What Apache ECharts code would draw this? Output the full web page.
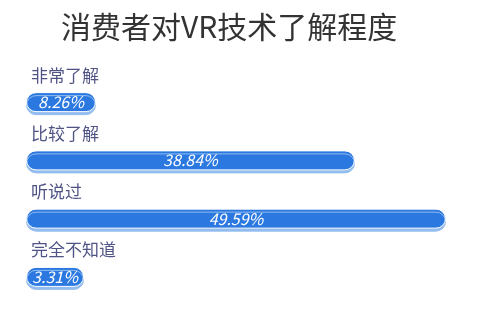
<!DOCTYPE html>
<html>
<head>
<meta charset="utf-8">
<script src="https://cdn.jsdelivr.net/npm/echarts@6/dist/echarts.min.js"></script>
<style>
  html, body { margin: 0; padding: 0; background: #fff; }
  #chart { width: 500px; height: 320px; }
</style>
</head>
<body>
<div id="chart"></div>
<script>
  var categories = ['非常了解', '比较了解', '听说过', '完全不知道'];
  var values = [8.26, 38.84, 49.59, 3.31];

  var font = '"Noto Sans CJK SC", "Noto Sans", sans-serif';
  var myChart = echarts.init(document.getElementById('chart'));

  myChart.setOption({
    backgroundColor: '#fff',
    title: {
      text: '消费者对VR技术了解程度',
      left: 56,
      top: 7,
      textStyle: {
        fontFamily: font,
        fontSize: 30,
        fontWeight: 'normal',
        color: '#333'
      }
    },
    grid: {
      left: 26,
      right: 54,
      top: 73,
      bottom: 14
    },
    xAxis: {
      type: 'value',
      min: 0,
      max: 'dataMax',
      show: false
    },
    yAxis: {
      type: 'category',
      inverse: true,
      data: categories,
      axisLine: { show: false },
      axisTick: { show: false },
      splitLine: { show: false },
      axisLabel: {
        inside: true,
        margin: 5,
        align: 'left',
        verticalAlign: 'bottom',
        lineHeight: 54,
        fontFamily: font,
        fontSize: 17,
        color: '#4f5485'
      },
      z: 5
    },
    series: [{
      type: 'bar',
      data: values,
      barWidth: 20,
      barMinHeight: 58,
      itemStyle: {
        color: '#2a78e0',
        borderColor: '#fff',
        borderWidth: 1,
        borderRadius: 10,
        shadowColor: '#93bcef',
        shadowOffsetY: 3,
        shadowBlur: 0
      },
      label: {
        show: true,
        position: 'inside',
        formatter: '{c}%',
        fontFamily: font,
        fontSize: 16,
        fontStyle: 'italic',
        color: '#fff'
      }
    }]
  });
</script>
</body>
</html>
